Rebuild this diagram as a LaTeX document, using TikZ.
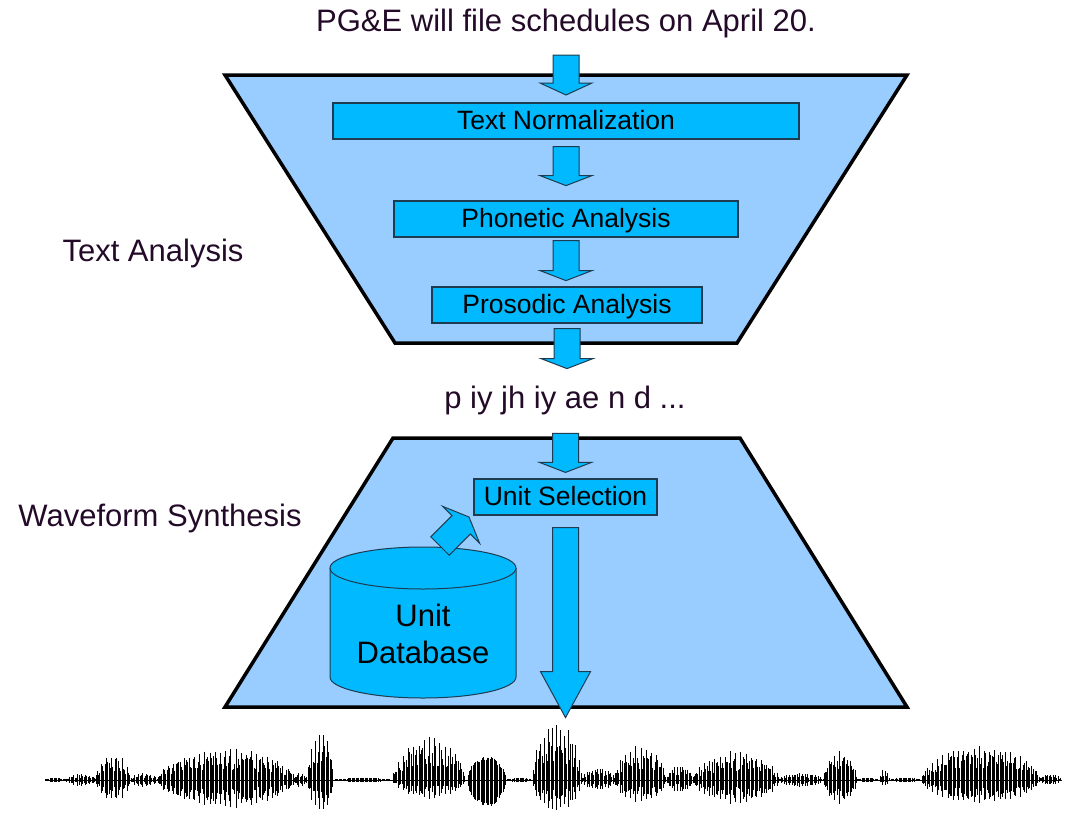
\documentclass[tikz,border=0pt]{standalone}
\usepackage{fontspec}
\setmainfont{Liberation Sans}
\usetikzlibrary{calc}

\definecolor{panelblue}{RGB}{153,204,255}
\definecolor{stageblue}{RGB}{0,185,255}
\definecolor{stageline}{RGB}{30,60,80}
\definecolor{labelink}{RGB}{35,10,40}

\tikzset{
  panel/.style={fill=panelblue, draw=black, line width=3.5pt, line join=miter},
  stagebox/.style={draw=stageline, fill=stageblue, line width=1.2pt,
    minimum height=36pt, inner sep=0pt, text height=22pt, text depth=5pt,
    font=\fontsize{26.5}{30}\selectfont},
  blockfill/.style={draw=stageline, fill=stageblue, line width=1pt, line join=miter},
  sidelabel/.style={font=\fontsize{31}{36}\selectfont, text=labelink, anchor=base},
  wave/.style={line width=0.9pt, black}
}

% block arrow pointing along local +y: start, length, head length, half head width
\newcommand{\blockarrow}[5][]{%
  \begin{scope}[shift={#2}, #1]
    \draw[blockfill] (-13,0) -- (-13,{#3-#4}) -- (-#5,{#3-#4}) -- (0,#3)
      -- (#5,{#3-#4}) -- (13,{#3-#4}) -- (13,0) -- cycle;
  \end{scope}}

\begin{document}
\begin{tikzpicture}[x=1pt, y=-1pt]
  \useasboundingbox (0,0) rectangle (1065,812);

  % the two stages
  \draw[panel] (225,75) -- (907,75) -- (737,343) -- (395,343) -- cycle;
  \draw[panel] (393,438) -- (740,438) -- (907,707) -- (225,707) -- cycle;

  \node[sidelabel] (input) at (566,31) {PG\&E will file schedules on April 20.};
  \node[sidelabel] (ta) at (153,261) {Text Analysis};
  \node[sidelabel] (ws) at (160,526) {Waveform Synthesis};
  \node[sidelabel] (phones) at (565,408) {p iy jh iy ae n d ...};

  \node[stagebox, minimum width=466pt] (tn) at (566,121) {Text Normalization};
  \node[stagebox, minimum width=344pt] (pa) at (566,219) {Phonetic Analysis};
  \node[stagebox, minimum width=270pt] (pr) at (567,305) {Prosodic Analysis};
  \node[stagebox, minimum width=183pt] (us) at (565.5,497) {Unit Selection};

  % unit database
  \fill[stageblue] (330,568) -- (330,677)
    arc[start angle=180, end angle=0, x radius=93, y radius=21]
    -- (516,568) arc[start angle=0, end angle=-180, x radius=93, y radius=21] -- cycle;
  \draw[stageline, line width=1pt] (330,568) -- (330,677)
    arc[start angle=180, end angle=0, x radius=93, y radius=21] -- (516,568);
  \draw[stageline, line width=1pt] (423,568) ellipse[x radius=93, y radius=21];
  \coordinate (dbtop) at (423,547);
  \node[font=\fontsize{31}{37}\selectfont, align=center] (db) at (423,634) {Unit\\Database};

  % arrows
  \blockarrow{($(input.base)+(0,24)$)}{40}{12}{26}
  \blockarrow{($(tn.south)+(0,7)$)}{39}{10}{26}
  \blockarrow{($(pa.south)+(0,3)$)}{40}{10}{26}
  \blockarrow{($(pr.south)+(0,5)$)}{40}{10}{26}
  \blockarrow{($(us.north)+(0,-45)$)}{39}{10}{26}
  \blockarrow{($(us.south)+(0,12)$)}{190}{46}{25}
  \blockarrow[rotate=135]{($(dbtop)+(17,-1)$)}{41}{11}{26}

  % waveform
  \pgfmathsetseed{7}
  \draw[wave] (45,780) -- (1062,780);
  \foreach \xa/\xb/\up/\dn/\pp in {45/66/2/2/1, 66/96/6/6/3, 96/131/27/22/4,
      131/158/7/7/3, 158/295/32/28/4, 295/308/8/8/3, 308/334/50/32/3,
      334/393/2/2/1, 393/465/44/19/4, 468/507/24/27/1, 507/533/2/2/1,
      533/582/58/32/3, 582/615/12/10/2, 615/667/37/24/4, 667/694/14/12/2,
      694/779/29/24/4, 779/824/7/7/2, 824/857/29/24/4, 857/880/2/2/1,
      880/890/11/6/2, 890/922/2/2/1, 922/1040/35/24/4, 1040/1062/6/5/2}{
    \pgfmathtruncatemacro\n{(\xb-\xa)/1.3}
    \foreach \i in {0,...,\n}{
      \pgfmathsetmacro\x{\xa+\i*1.3}
      \pgfmathsetmacro\env{sin(180/(\n+1)*(\i+0.5))^0.5}
      \pgfmathsetmacro\f{ifthenelse(mod(\i,\pp)==0,0.8+0.2*rnd,0.3+0.5*rnd)}
      \draw[wave] (\x,{780-\up*\env*\f}) -- (\x,{780+\dn*\env*\f});
    }
  }
\end{tikzpicture}
\end{document}
